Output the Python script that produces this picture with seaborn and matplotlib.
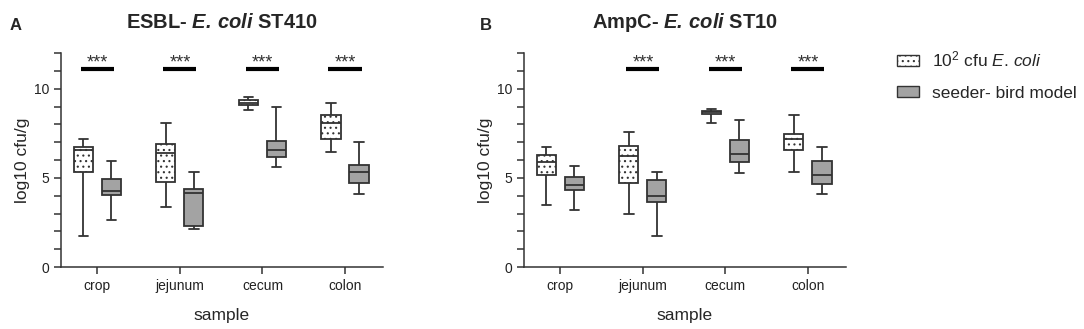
import pandas as pd
import numpy as np
import matplotlib
matplotlib.use("Agg")
import matplotlib.pyplot as plt
from matplotlib.patches import Patch
from matplotlib.ticker import MultipleLocator
import seaborn as sns

# ==========================
# DATA (min, Q1, median, Q3, max per box)
# ==========================

samples = ["crop", "jejunum", "cecum", "colon"]
groups = ["$10^2$ cfu $\\it{E.\\,coli}$", "seeder- bird model"]

a_low_dose = [
    [1.75, 5.32, 6.55, 6.71, 7.18],
    [3.36, 4.76, 6.39, 6.92, 8.05],
    [8.82, 9.10, 9.21, 9.34, 9.51],
    [6.43, 7.20, 8.08, 8.53, 9.17],
]
a_seeder = [
    [2.63, 4.04, 4.29, 4.92, 5.92],
    [2.16, 2.29, 4.14, 4.40, 5.34],
    [5.60, 6.15, 6.54, 7.07, 9.00],
    [4.12, 4.70, 5.32, 5.70, 7.03],
]
b_low_dose = [
    [3.50, 5.19, 5.88, 6.27, 6.74],
    [3.00, 4.74, 6.24, 6.76, 7.60],
    [8.05, 8.56, 8.67, 8.76, 8.88],
    [5.34, 6.57, 7.17, 7.45, 8.50],
]
b_seeder = [
    [3.22, 4.33, 4.61, 5.07, 5.69],
    [1.76, 3.65, 4.01, 4.89, 5.34],
    [5.28, 5.90, 6.35, 7.15, 8.26],
    [4.12, 4.64, 5.19, 5.94, 6.74],
]

a_sig = [True, True, True, True]
b_sig = [False, True, True, True]

titles = ["ESBL- $\\bfit{E.\\,coli}$ ST410",
          "AmpC- $\\bfit{E.\\,coli}$ ST10"]
panel_letters = ["A", "B"]

# ==========================
# STYLE
# ==========================

sns.set_style("ticks")
plt.rcParams["font.family"] = ["Liberation Sans", "DejaVu Sans"]
plt.rcParams["mathtext.fontset"] = "custom"
plt.rcParams["mathtext.rm"] = "Liberation Sans"
plt.rcParams["mathtext.it"] = "Liberation Sans:italic"
plt.rcParams["mathtext.bf"] = "Liberation Sans:bold"
plt.rcParams["mathtext.bfit"] = "Liberation Sans:bold:italic"
plt.rcParams["hatch.linewidth"] = 0.8

dark = "#333333"
fill_gray = "#a3a3a3"
palette = {groups[0]: "white", groups[1]: fill_gray}


def long_frame(low, seeder):
    rows = []
    for name, vals in zip(samples, low):
        for v in vals:
            rows.append((name, groups[0], v))
    for name, vals in zip(samples, seeder):
        for v in vals:
            rows.append((name, groups[1], v))
    return pd.DataFrame(rows, columns=["sample", "group", "value"])


fig = plt.figure(figsize=(10.84, 3.29), dpi=100)
ax_a = fig.add_axes([0.0563, 0.188, 0.297, 0.651])
ax_b = fig.add_axes([0.4834, 0.188, 0.297, 0.651])

panels = [
    (ax_a, long_frame(a_low_dose, a_seeder), a_sig),
    (ax_b, long_frame(b_low_dose, b_seeder), b_sig),
]

for i, (ax, df, sig) in enumerate(panels):

    sns.boxplot(
        data=df,
        x="sample",
        y="value",
        hue="group",
        order=samples,
        hue_order=groups,
        palette=palette,
        whis=(0, 100),
        width=0.68,
        gap=0.32,
        linecolor=dark,
        linewidth=1.3,
        legend=False,
        ax=ax
    )

    for patch in ax.patches:
        fc = patch.get_facecolor()
        if fc[0] > 0.95:
            patch.set_hatch("...")
            patch.set_edgecolor(dark)

    # significance bars
    for j, flag in enumerate(sig):
        if flag:
            ax.plot([j - 0.2, j + 0.2], [11.1, 11.1], color="black", lw=3,
                    solid_capstyle="butt")
            ax.text(j, 10.95, "***", ha="center", va="bottom",
                    fontsize=13, color=dark)

    ax.set_xlim(-0.44, 3.46)
    ax.set_ylim(0, 12)
    ax.yaxis.set_major_locator(MultipleLocator(5))
    ax.yaxis.set_minor_locator(MultipleLocator(1))
    ax.tick_params(axis="both", which="major", length=5, width=1.1,
                   color=dark, labelsize=10, labelcolor="#222222")
    ax.tick_params(axis="y", which="minor", length=5, width=1.1, color=dark)

    for side in ["top", "right"]:
        ax.spines[side].set_visible(False)
    for side in ["left", "bottom"]:
        ax.spines[side].set_color(dark)
        ax.spines[side].set_linewidth(1.1)

    ax.set_xlabel("sample", fontsize=12.5, labelpad=11)
    ax.set_ylabel("log10 cfu/g", fontsize=12.5, labelpad=3)
    ax.set_title(titles[i], fontsize=14.5, fontweight="bold", pad=18)

fig.text(0.009, 0.922, panel_letters[0], fontsize=12, fontweight="bold",
         va="center")
fig.text(0.443, 0.922, panel_letters[1], fontsize=12, fontweight="bold",
         va="center")

# ==========================
# LEGEND
# ==========================

handles = [
    Patch(facecolor="white", edgecolor=dark, hatch="...", linewidth=1.0),
    Patch(facecolor=fill_gray, edgecolor=dark, linewidth=1.0),
]

fig.legend(
    handles,
    groups,
    loc="upper left",
    bbox_to_anchor=(0.813, 0.897),
    frameon=False,
    fontsize=12.5,
    handlelength=1.3,
    handleheight=0.6,
    handletextpad=0.7,
    labelspacing=0.95
)

plt.savefig("out.png", dpi=100)
plt.close()
